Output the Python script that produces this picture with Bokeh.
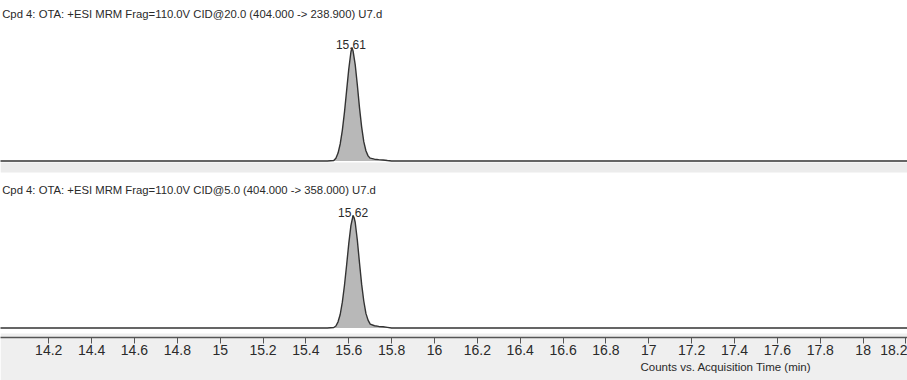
from bokeh.plotting import figure
from bokeh.models import Range1d, FixedTicker, Label, BoxAnnotation, ColumnDataSource, Title
from bokeh.core.properties import value
from bokeh.embed import file_html
from bokeh.resources import INLINE

# ---- data ----
titles = [
    "Cpd 4: OTA: +ESI MRM Frag=110.0V CID@20.0 (404.000 -> 238.900) U7.d",
    "Cpd 4: OTA: +ESI MRM Frag=110.0V CID@5.0 (404.000 -> 358.000) U7.d",
]
t_top = [13.95, 15.50, 15.53, 15.54, 15.55, 15.56, 15.57, 15.58, 15.59, 15.60, 15.61, 15.615,
         15.62, 15.63, 15.64, 15.65, 15.66, 15.67, 15.68, 15.69, 15.70, 15.72, 15.74, 15.76,
         15.78, 15.80, 18.25]
i_top = [0, 0, 0.5, 2.5, 7, 15, 27, 43, 62, 81, 96, 100,
         97, 85, 67, 47, 30, 17, 9, 4.5, 2.5, 1.6, 1.2, 0.9,
         0.4, 0, 0]
t_bot = [13.95, 15.50, 15.53, 15.54, 15.55, 15.56, 15.57, 15.58, 15.59, 15.60, 15.61, 15.62,
         15.625, 15.63, 15.64, 15.65, 15.66, 15.67, 15.68, 15.69, 15.70, 15.72, 15.74, 15.76,
         15.78, 15.80, 18.25]
i_bot = [0, 0, 0.4, 1.8, 5.5, 12, 23, 38, 56, 75, 91, 100,
         98, 94, 78, 58, 39, 24, 13, 7, 3.5, 2, 1.4, 1.1,
         0.6, 0, 0]
peak_rt = [15.61, 15.62]
peak_h = [100, 100]
peak_lbl = ["15.61", "15.62"]
tick_vals = [14.2, 14.4, 14.6, 14.8, 15.0, 15.2, 15.4, 15.6, 15.8, 16.0, 16.2, 16.4, 16.6,
             16.8, 17.0, 17.2, 17.4, 17.6, 17.8, 18.0, 18.2]
tick_lbls = ["14.2", "14.4", "14.6", "14.8", "15", "15.2", "15.4", "15.6", "15.8", "16",
             "16.2", "16.4", "16.6", "16.8", "17", "17.2", "17.4", "17.6", "17.8", "18", "18.2"]
x_label = "Counts vs. Acquisition Time (min)"

FONT = "Liberation Sans"
W, H = 907, 380
FRAME_H = 337

p = figure(width=W, height=H, output_backend="svg", toolbar_location=None,
           x_range=Range1d(13.975, 18.207), y_range=Range1d(0, FRAME_H),
           y_axis_location=None, min_border_left=0, min_border_right=0,
           min_border_top=0, min_border_bottom=H - FRAME_H)
p.extra_y_ranges = {"top": Range1d(-155.5, 141.4), "bot": Range1d(-8.44, 291.1)}
p.outline_line_color = None
p.grid.visible = False
p.background_fill_color = "white"
p.border_fill_color = "#efefef"

# gray separator bands (layout)
p.add_layout(BoxAnnotation(bottom=165, top=175, fill_color="#ececec", fill_alpha=1,
                           line_color=None, level="underlay"))
p.add_layout(BoxAnnotation(bottom=0, top=4, fill_color="#efefef", fill_alpha=1,
                           line_color=None, level="underlay"))

for t, i, rng in [(t_top, i_top, "top"), (t_bot, i_bot, "bot")]:
    src = ColumnDataSource(dict(t=t, i=i, z=[0] * len(t)))
    p.varea(x="t", y1="z", y2="i", source=src, fill_color="#b8b8b8", y_range_name=rng)
    p.line(x="t", y="i", source=src, line_color="#333333", line_width=1.4, y_range_name=rng)

for k, rng in enumerate(["top", "bot"]):
    p.text(x=[peak_rt[k]], y=[peak_h[k]], text=[peak_lbl[k]], y_range_name=rng,
           text_font=value(FONT), text_font_size="12px", text_color="#2a2a2a",
           text_align="center", text_baseline="bottom", y_offset=2)

for txt, yy in zip(titles, [324, 148]):
    p.add_layout(Label(x=13.983, y=yy, text=txt, text_font=FONT, text_font_size="11.3px",
                       text_color="#2a2a2a", text_baseline="middle", text_align="left"))

p.add_layout(Title(text=x_label, align="left", offset=640, standoff=3,
                   text_font=FONT, text_font_size="11.5px", text_font_style="normal",
                   text_color="#2a2a2a"), "below")

ax = p.xaxis[0]
ax.ticker = FixedTicker(ticks=tick_vals)
ax.major_label_overrides = dict(zip(tick_vals, tick_lbls))
ax.axis_line_color = "#555"
ax.axis_line_width = 1.5
ax.major_tick_line_color = "#555"
ax.major_tick_out = 6
ax.major_tick_in = 0
ax.minor_tick_line_color = None
ax.major_label_standoff = 1
ax.major_label_text_font = FONT
ax.major_label_text_font_size = "14px"
ax.major_label_text_color = "#2a2a2a"

open("out.html", "w").write(file_html(p, INLINE))
